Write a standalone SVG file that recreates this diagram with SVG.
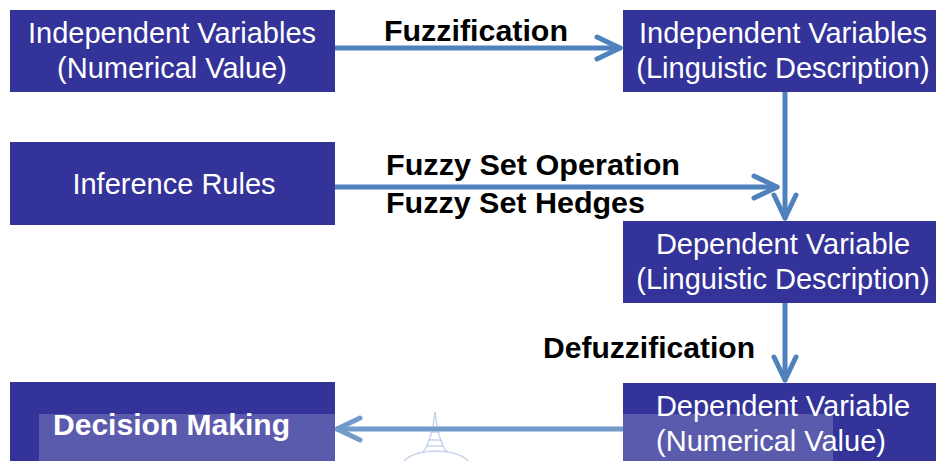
<svg xmlns="http://www.w3.org/2000/svg" width="936" height="461" viewBox="0 0 936 461">
  <style>
    .box { fill: #333399; }
    .btxt { fill: #ffffff; font-family: "Liberation Sans", Arial, sans-serif; font-size: 29px; text-anchor: middle; }
    .bbold { fill: #ffffff; font-family: "Liberation Sans", Arial, sans-serif; font-size: 29px; font-weight: bold; }
    .lbl { fill: #000000; font-family: "Liberation Sans", Arial, sans-serif; font-size: 29px; font-weight: bold; }
    .wire { fill: none; stroke: #4f81bd; stroke-width: 5; stroke-linecap: round; }
    .head { fill: none; stroke: #4f81bd; stroke-width: 5; stroke-linecap: round; stroke-linejoin: round; }
  </style>
  <defs>
    <marker id="chev" viewBox="-30 -16 34 32" refX="0" refY="0" markerWidth="34" markerHeight="32" markerUnits="userSpaceOnUse" orient="auto">
      <path class="head" d="M -23,-11 L 0,0 L -23,11"/>
    </marker>
  </defs>
  <rect width="936" height="461" fill="#ffffff"/>

  <!-- connectors -->
  <g id="connectors">
    <line class="wire" x1="335" y1="48" x2="620" y2="48" marker-end="url(#chev)"/>
    <line class="wire" x1="785" y1="92" x2="785" y2="218" marker-end="url(#chev)"/>
    <line class="wire" x1="335" y1="187" x2="777" y2="187" marker-end="url(#chev)"/>
    <line class="wire" x1="785" y1="303" x2="785" y2="380" marker-end="url(#chev)"/>
    <line class="wire" x1="623" y1="429" x2="337" y2="429" marker-end="url(#chev)"/>
  </g>

  <!-- connector labels -->
  <g id="labels">
    <text class="lbl" x="384" y="41" textLength="184" lengthAdjust="spacingAndGlyphs">Fuzzification</text>
    <text class="lbl" x="386" y="175" textLength="294" lengthAdjust="spacingAndGlyphs">Fuzzy Set Operation</text>
    <text class="lbl" x="386" y="213" textLength="259" lengthAdjust="spacingAndGlyphs">Fuzzy Set Hedges</text>
    <text class="lbl" x="543" y="358" textLength="212" lengthAdjust="spacingAndGlyphs">Defuzzification</text>
  </g>

  <g id="indep-num">
    <rect class="box" x="10" y="10" width="325" height="82"/>
    <text class="btxt" x="172" y="43">Independent Variables</text>
    <text class="btxt" x="172" y="78">(Numerical Value)</text>
  </g>

  <g id="indep-ling">
    <rect class="box" x="623" y="10" width="318" height="82"/>
    <text class="btxt" x="783" y="43">Independent Variables</text>
    <text class="btxt" x="783" y="78">(Linguistic Description)</text>
  </g>

  <g id="inference-rules">
    <rect class="box" x="10" y="142" width="325" height="83"/>
    <text class="btxt" x="174" y="194">Inference Rules</text>
  </g>

  <g id="dep-ling">
    <rect class="box" x="623" y="221" width="318" height="82"/>
    <text class="btxt" x="783" y="254">Dependent Variable</text>
    <text class="btxt" x="783" y="289">(Linguistic Description)</text>
  </g>

  <g id="dep-num">
    <rect class="box" x="623" y="383" width="318" height="82"/>
    <text class="btxt" x="783" y="416">Dependent Variable</text>
    <text class="btxt" x="771" y="451">(Numerical Value)</text>
  </g>

  <g id="decision-making">
    <rect class="box" x="10" y="382" width="325" height="83"/>
    <text class="bbold" x="53" y="435" textLength="237" lengthAdjust="spacingAndGlyphs">Decision Making</text>
  </g>

  <!-- faint stupa mark and pale band along the lower edge -->
  <g id="mark" fill="none" stroke="#6f8fd0" stroke-opacity="0.45" stroke-width="1.5">
    <path d="M 435,412 L 433,426 L 430,438 L 426,448 L 423,452 M 435,412 L 437,426 L 440,438 L 444,448 L 447,452"/>
    <path d="M 431,432 L 439,432 M 429,440 L 441,440 M 427,446 L 443,446"/>
    <path d="M 400,470 Q 403,452 436,451 Q 469,452 473,470"/>
  </g>
  <rect x="39" y="414" width="794" height="47" fill="#ffffff" fill-opacity="0.2"/>
</svg>
